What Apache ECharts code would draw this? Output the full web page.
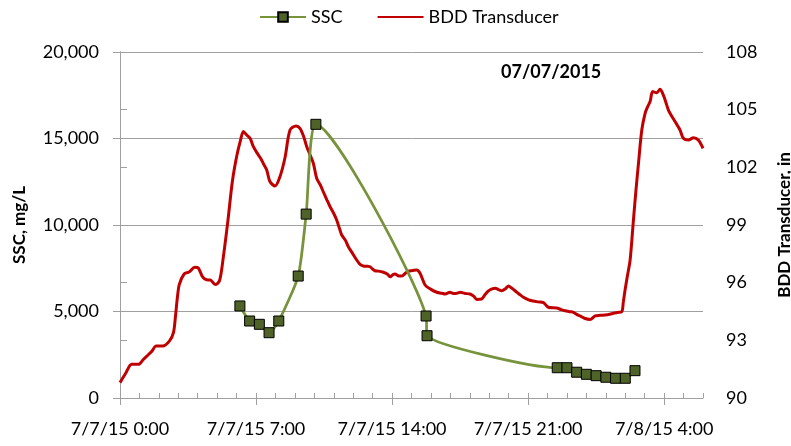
<!DOCTYPE html>
<html>
<head>
<meta charset="utf-8">
<script src="https://cdn.jsdelivr.net/npm/echarts@6/dist/echarts.min.js"></script>
<style>
html,body{margin:0;padding:0;background:#fff;}
#chart{width:791px;height:446px;}
</style>
</head>
<body>
<div id="chart"></div>
<script>
// Hours since 7/7/15 0:00
const sscHours = [6.17, 6.67, 7.17, 7.67, 8.17, 9.17, 9.58, 10.08, 15.75, 15.8, 22.5, 23.0, 23.5, 24.0, 24.5, 25.0, 25.5, 26.0, 26.5];
const sscValues = [5320, 4450, 4260, 3775, 4450, 7050, 10630, 15820, 4740, 3600, 1750, 1750, 1490, 1370, 1290, 1200, 1140, 1140, 1580];

const bddHours = [0.0,0.3,0.6,0.95,1.2,1.4,1.65,1.85,2.2,2.55,2.75,2.85,2.95,3.05,3.3,3.55,3.85,4.03,4.25,4.45,4.65,4.9,5.12,5.3,5.55,5.78,6.0,6.2,6.35,6.52,6.7,6.85,7.05,7.25,7.4,7.55,7.72,7.98,8.23,8.49,8.75,9.06,9.26,9.45,9.61,9.8,9.95,10.12,10.3,10.46,10.65,10.81,11.0,11.15,11.3,11.41,11.6,11.75,11.95,12.18,12.35,12.52,12.75,12.87,13.0,13.12,13.3,13.55,13.75,13.9,14.05,14.15,14.35,14.5,14.7,14.84,15.05,15.27,15.44,15.7,16.0,16.3,16.55,16.73,16.98,17.15,17.33,17.5,17.75,18.01,18.2,18.36,18.61,18.8,18.96,19.15,19.3,19.5,19.64,19.85,19.99,20.15,20.33,20.55,20.76,21.0,21.19,21.5,21.79,22.04,22.47,22.7,22.9,23.16,23.33,23.5,23.67,23.9,24.19,24.45,24.7,24.96,25.2,25.39,25.6,25.82,25.9,25.99,26.1,26.25,26.42,26.55,26.68,26.85,27.02,27.15,27.28,27.41,27.62,27.79,27.96,28.1,28.22,28.4,28.57,28.7,28.82,28.99,29.25,29.51,29.76,30.0];
const bddValues = [90.8,91.3,91.75,91.75,92.0,92.2,92.45,92.7,92.7,92.97,93.4,94.2,95.2,95.9,96.45,96.55,96.8,96.76,96.3,96.15,96.14,95.9,96.1,97.2,99.2,101.25,102.55,103.4,103.86,103.68,103.5,103.1,102.75,102.45,102.15,101.86,101.25,101.03,101.51,102.5,103.94,104.15,104.03,103.6,103.07,102.6,102.21,101.43,101.1,100.73,100.3,99.95,99.6,99.26,98.8,98.48,98.2,97.87,97.55,97.18,96.95,96.87,96.85,96.83,96.7,96.62,96.6,96.54,96.45,96.31,96.42,96.45,96.35,96.35,96.5,96.6,96.63,96.66,96.49,95.88,95.65,95.5,95.45,95.41,95.5,95.44,95.45,95.5,95.44,95.41,95.3,95.13,95.15,95.4,95.57,95.68,95.71,95.63,95.58,95.7,95.83,95.72,95.58,95.4,95.24,95.12,95.06,95.0,94.96,94.72,94.68,94.6,94.54,94.49,94.46,94.35,94.27,94.15,94.09,94.27,94.3,94.32,94.36,94.41,94.45,94.49,95.0,95.62,96.3,97.18,99.26,100.8,102.21,103.94,104.81,105.15,105.42,105.94,105.88,106.06,105.76,105.35,104.98,104.65,104.37,104.15,103.94,103.51,103.42,103.54,103.42,102.99];

const xMajorTicks = [0, 7, 14, 21, 28];
const xTickLabels = ['7/7/15 0:00', '7/7/15 7:00', '7/7/15 14:00', '7/7/15 21:00', '7/8/15 4:00'];

const minorTicks = [];
for (let h = 0; h <= 30; h++) minorTicks.push(h);

const FONT = 'Lato';
const gray = '#a0a0a0';

const chart = echarts.init(document.getElementById('chart'));
chart.setOption({
  animation: false,
  backgroundColor: '#fff',
  textStyle: { fontFamily: FONT },
  title: {
    text: '07/07/2015',
    left: 496, top: 58,
    textStyle: { fontFamily: FONT, fontSize: 18, fontWeight: 'bold', color: '#000' }
  },
  legend: {
    top: 3, left: 254,
    itemWidth: 46, itemHeight: 12, itemGap: 34,
    textStyle: { fontFamily: FONT, fontSize: 18, color: '#000' },
    data: [
      { name: 'SSC' },
      { name: 'BDD Transducer', itemStyle: { opacity: 0, color: 'rgba(0,0,0,0)', borderWidth: 0 } }
    ]
  },
  grid: { left: 120, right: 88, top: 52, bottom: 48, containLabel: false, outerBoundsMode: 'none' },
  xAxis: [{
    type: 'value', min: 0, max: 30, interval: 7,
    axisLine: { lineStyle: { color: gray, width: 1 } },
    axisTick: { show: true, length: 7, inside: false, customValues: xMajorTicks, lineStyle: { color: gray } },
    axisLabel: {
      customValues: xMajorTicks, margin: 22,
      fontFamily: FONT, fontSize: 18, color: '#000',
      formatter: v => xTickLabels[xMajorTicks.indexOf(v)] || ''
    },
    splitLine: { show: false }
  }, {
    type: 'value', min: 0, max: 30, position: 'bottom',
    axisLine: { show: false },
    axisTick: { show: true, inside: true, length: 5, customValues: minorTicks, lineStyle: { color: gray } },
    axisLabel: { show: false },
    splitLine: { show: false }
  }],
  yAxis: [{
    type: 'value', min: 0, max: 20000, interval: 5000,
    name: 'SSC, mg/L', nameLocation: 'middle', nameGap: 92, nameRotate: 90,
    nameTextStyle: { fontFamily: FONT, fontSize: 17, fontWeight: 'bold', color: '#000' },
    axisLine: { show: true, lineStyle: { color: gray } },
    axisTick: { show: true, length: 7, lineStyle: { color: gray } },
    axisLabel: { margin: 21, fontFamily: FONT, fontSize: 18, color: '#000', formatter: v => v.toLocaleString('en-US') },
    splitLine: { show: true, lineStyle: { color: gray, width: 1 } }
  }, {
    type: 'value', min: 90, max: 108, interval: 3, position: 'right',
    name: 'BDD Transducer, in', nameLocation: 'middle', nameGap: 73, nameRotate: 90,
    nameTextStyle: { fontFamily: FONT, fontSize: 17, fontWeight: 'bold', color: '#000' },
    axisLine: { show: true, lineStyle: { color: gray } },
    axisTick: { show: true, length: 7, lineStyle: { color: gray } },
    axisLabel: { margin: 23, fontFamily: FONT, fontSize: 18, color: '#000' },
    splitLine: { show: false }
  }],
  series: [{
    name: 'SSC', type: 'line', yAxisIndex: 0, xAxisIndex: 0,
    data: sscHours.map((h, i) => [h, sscValues[i]]),
    smooth: 0.2,
    symbol: 'rect', symbolSize: 10,
    lineStyle: { color: '#77933c', width: 2.75 },
    itemStyle: { color: '#4f6228', borderColor: '#000', borderWidth: 1 },
    z: 3
  }, {
    name: 'BDD Transducer', type: 'line', yAxisIndex: 1, xAxisIndex: 0,
    data: bddHours.map((h, i) => [h, bddValues[i]]),
    smooth: 0.3, showSymbol: false, symbol: 'none',
    lineStyle: { color: '#c00000', width: 3 },
    itemStyle: { color: '#c00000' },
    z: 2
  }]
});
</script>
</body>
</html>
